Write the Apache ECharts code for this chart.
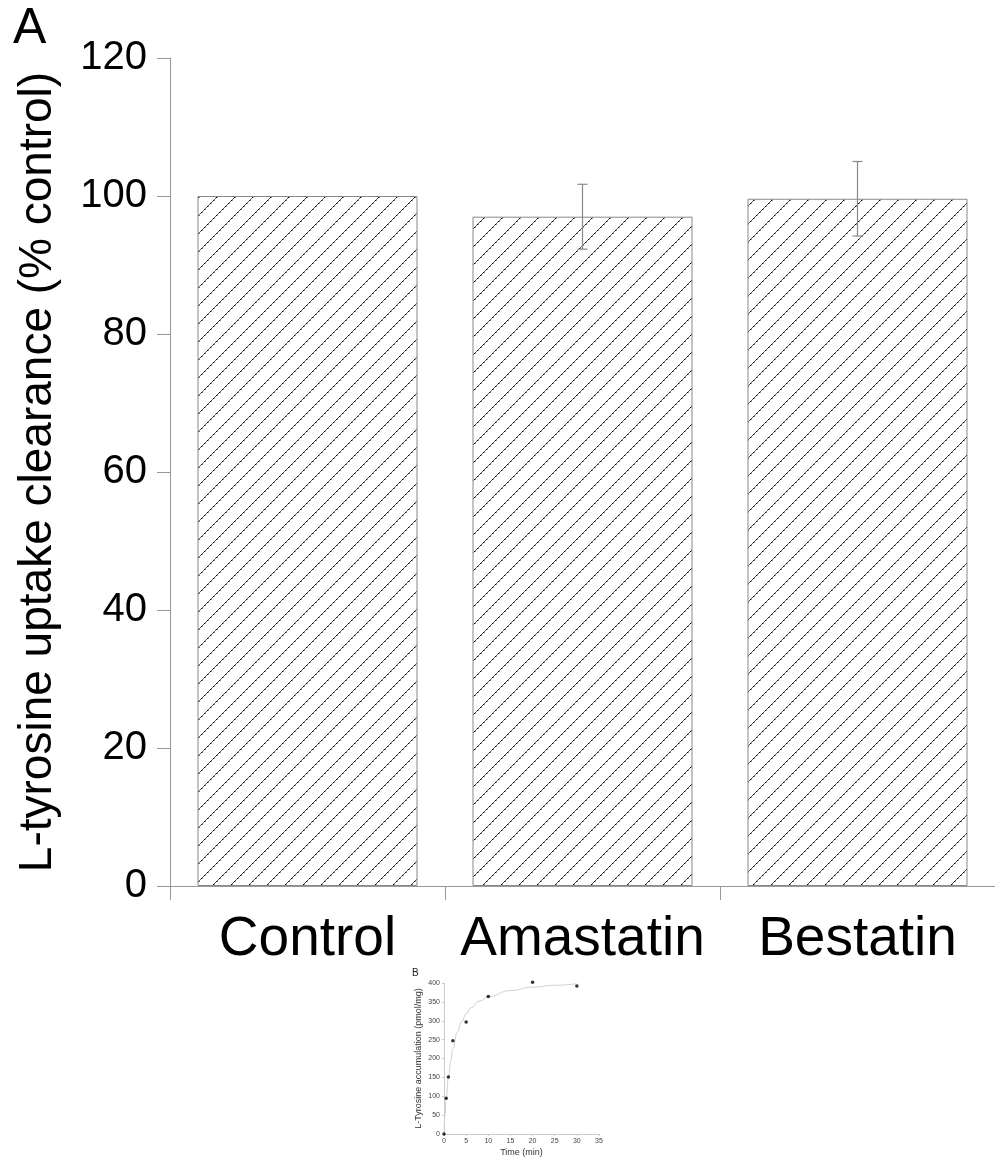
<!DOCTYPE html>
<html>
<head>
<meta charset="utf-8">
<script src="https://cdn.jsdelivr.net/npm/echarts@6/dist/echarts.min.js"></script>
<style>
html,body{margin:0;padding:0;background:#fff;}
#chart{width:995px;height:1159px;}
</style>
</head>
<body>
<div id="chart"></div>
<script>
// Panel A data
const categories = ['Control', 'Amastatin', 'Bestatin'];
const clearanceMean = [100, 97, 99.6];
const clearanceErr = [0, 4.7, 5.4];

// Panel B data
const timeMin = [0, 0.5, 1, 2, 5, 10, 20, 30];
const accumulation = [0, 95, 151, 247, 297, 364, 402, 392];
const fitTime = [0, 0.25, 0.5, 1, 1.5, 2, 3, 4, 5, 6, 8, 10, 15, 20, 25, 30];
const fitAccum = [0, 52, 97, 150, 192, 226, 270, 298, 318, 334, 352, 364, 380, 389, 394, 398];

// hatch pattern
function makeHatch() {
  const s = 18;
  const c = document.createElement('canvas');
  c.width = s; c.height = s;
  const ctx = c.getContext('2d');
  ctx.fillStyle = '#fff';
  ctx.fillRect(0, 0, s, s);
  for (let i = 0; i < s; i++) {
    ctx.fillStyle = (i % 3 === 0) ? '#000' : '#5a5a5a';
    ctx.fillRect(i, s - 1 - i, 1, 1);
    if (i % 3 === 0) {
      ctx.fillStyle = '#9a9a9a';
      ctx.fillRect(i + 1 < s ? i + 1 : 0, s - 1 - i, 1, 1);
    }
  }
  return c;
}

const chart = echarts.init(document.getElementById('chart'), null, {renderer: 'canvas'});
const font = 'Liberation Sans, Arial, sans-serif';

const errData = categories.map((c, i) => [i, clearanceMean[i], clearanceErr[i]]);
const scatterData = timeMin.map((t, i) => [t, accumulation[i]]);
const fitData = fitTime.map((t, i) => [t, fitAccum[i]]);

const option = {
  animation: false,
  backgroundColor: '#fff',
  textStyle: {fontFamily: font},
  graphic: [
    {type: 'text', left: 13, top: 4, style: {text: 'A', font: '50px ' + font, fill: '#000'}},
    {type: 'text', left: 412, top: 968, style: {text: 'B', font: '10px ' + font, fill: '#222'}}
  ],
  grid: [
    {left: 170, top: 58, width: 826, height: 828},
    {left: 444, top: 983, width: 155, height: 151}
  ],
  xAxis: [
    {
      type: 'category', gridIndex: 0, data: categories,
      axisLine: {lineStyle: {color: '#999', width: 1}},
      axisTick: {show: true, length: 14, alignWithLabel: false, interval: 0, lineStyle: {color: '#999'}},
      axisLabel: {fontSize: 55, color: '#000', margin: 26, fontFamily: font, interval: 0, hideOverlap: false}
    },
    {
      type: 'value', gridIndex: 1, min: 0, max: 35, interval: 5,
      name: 'Time (min)', nameLocation: 'middle', nameGap: 14,
      nameTextStyle: {fontSize: 9, color: '#333', fontFamily: font},
      splitLine: {show: false},
      axisLine: {lineStyle: {color: '#ccc', width: 1}},
      axisTick: {show: true, length: 2, lineStyle: {color: '#ccc'}},
      axisLabel: {fontSize: 7, color: '#444', margin: 4, fontFamily: font}
    }
  ],
  yAxis: [
    {
      type: 'value', gridIndex: 0, min: 0, max: 120, interval: 20,
      name: 'L-tyrosine uptake clearance (% control)', nameLocation: 'middle', nameGap: 109,
      nameTextStyle: {fontSize: 46, color: '#000', fontFamily: font},
      splitLine: {show: false},
      axisLine: {show: true, lineStyle: {color: '#999', width: 1}},
      axisTick: {show: true, length: 13, lineStyle: {color: '#999'}},
      axisLabel: {fontSize: 40, color: '#000', margin: 23, fontFamily: font}
    },
    {
      type: 'value', gridIndex: 1, min: 0, max: 400, interval: 50,
      name: 'L-Tyrosine accumulation (pmol/mg)', nameLocation: 'middle', nameGap: 21,
      nameTextStyle: {fontSize: 9, color: '#333', fontFamily: font},
      splitLine: {show: false},
      axisLine: {show: true, lineStyle: {color: '#ccc', width: 1}},
      axisTick: {show: true, length: 2, lineStyle: {color: '#ccc'}},
      axisLabel: {fontSize: 7, color: '#444', margin: 4, fontFamily: font}
    }
  ],
  series: [
    {
      type: 'bar', xAxisIndex: 0, yAxisIndex: 0,
      data: clearanceMean, barWidth: '80%',
      itemStyle: {
        color: {image: makeHatch(), repeat: 'repeat'},
        borderColor: '#888', borderWidth: 1
      },
      z: 2
    },
    {
      type: 'custom', xAxisIndex: 0, yAxisIndex: 0,
      data: errData, encode: {x: 0, y: 1}, z: 5, clip: false,
      renderItem: function (params, api) {
        const i = api.value(0), m = api.value(1), e = api.value(2);
        if (!e) return null;
        const top = api.coord([i, m + e]);
        const bot = api.coord([i, m - e]);
        const hw = 5;
        const st = {stroke: '#888', lineWidth: 1.2};
        return {
          type: 'group',
          children: [
            {type: 'line', shape: {x1: top[0], y1: top[1], x2: bot[0], y2: bot[1]}, style: st},
            {type: 'line', shape: {x1: top[0] - hw, y1: top[1], x2: top[0] + hw, y2: top[1]}, style: st},
            {type: 'line', shape: {x1: bot[0] - hw, y1: bot[1], x2: bot[0] + hw, y2: bot[1]}, style: st}
          ]
        };
      }
    },
    {
      type: 'line', xAxisIndex: 1, yAxisIndex: 1,
      data: fitData, smooth: true, smoothMonotone: 'x', showSymbol: false,
      lineStyle: {color: '#cfcfcf', width: 1}, z: 2
    },
    {
      type: 'scatter', xAxisIndex: 1, yAxisIndex: 1, clip: false,
      data: scatterData, symbol: 'circle', symbolSize: 3.5,
      itemStyle: {color: '#000'}, z: 3
    }
  ]
};
chart.setOption(option);
</script>
</body>
</html>
